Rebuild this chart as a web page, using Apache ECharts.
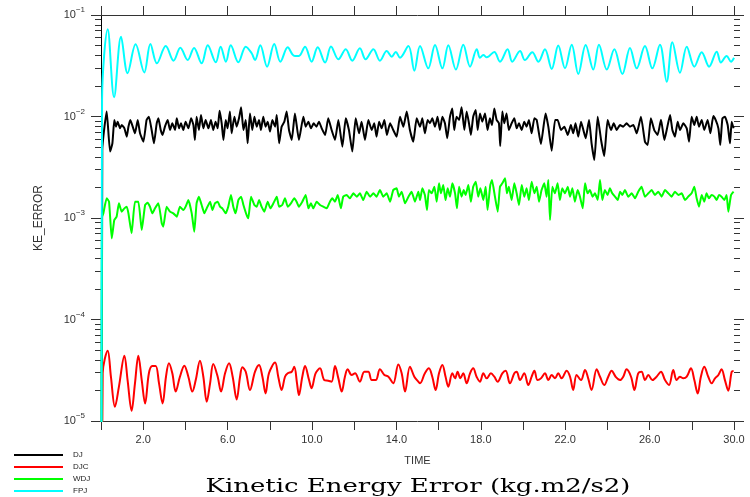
<!DOCTYPE html>
<html>
<head>
<meta charset="utf-8">
<script src="https://cdn.jsdelivr.net/npm/echarts@6/dist/echarts.min.js"></script>
<style>
  html, body { margin: 0; padding: 0; background: #fff; }
  #chart { width: 750px; height: 497px; }
</style>
</head>
<body>
<div id="chart"></div>
<script>
// Kinetic energy error histories, [time, error] pairs
const seriesNames = ['DJ', 'DJC', 'WDJ', 'FPJ'];

const djPoints = [
  [0.03,1e-7],[0.06,0.0047],[0.27,0.0112],[0.43,0.00451],[0.54,0.00544],[0.63,0.00924],[0.71,0.00794],[0.79,0.0089],
  [0.90,0.00764],[0.98,0.00824],[1.11,0.00764],[1.22,0.00633],[1.30,0.00794],[1.39,0.00924],[1.53,0.00764],[1.61,0.00683],
  [1.74,0.00924],[1.85,0.00683],[2.01,0.00565],[2.16,0.00924],[2.27,0.00996],[2.40,0.00736],[2.51,0.00544],[2.64,0.00857],
  [2.72,0.0096],[2.83,0.00736],[2.92,0.00658],[3.03,0.00794],[3.16,0.00924],[3.27,0.00736],[3.38,0.00857],[3.51,0.00736],
  [3.59,0.0096],[3.70,0.00764],[3.79,0.00857],[3.90,0.00736],[4.01,0.0089],[4.14,0.00764],[4.27,0.0096],[4.38,0.00824],
  [4.45,0.00587],[4.53,0.00996],[4.64,0.00736],[4.74,0.01035],[4.85,0.00764],[4.96,0.00924],[5.09,0.00764],[5.21,0.00924],
  [5.32,0.00736],[5.43,0.0089],[5.53,0.00764],[5.62,0.0114],[5.72,0.00857],[5.80,0.00587],[5.91,0.00924],[6.00,0.00764],
  [6.11,0.0112],[6.19,0.00683],[6.32,0.00996],[6.43,0.00794],[6.54,0.0096],[6.64,0.0123],[6.75,0.00736],[6.86,0.00924],
  [6.95,0.00544],[7.06,0.0107],[7.17,0.00736],[7.27,0.00996],[7.38,0.00794],[7.49,0.00924],[7.58,0.00736],[7.69,0.00996],
  [7.80,0.00794],[7.90,0.0089],[8.01,0.0071],[8.12,0.00924],[8.25,0.00794],[8.33,0.01035],[8.44,0.00544],[8.56,0.00794],
  [8.69,0.0089],[8.80,0.0112],[8.91,0.00736],[9.04,0.00587],[9.19,0.0107],[9.38,0.00587],[9.59,0.00996],[9.70,0.00794],
  [9.83,0.0089],[9.95,0.00764],[10.08,0.00857],[10.21,0.00794],[10.33,0.0089],[10.46,0.00764],[10.62,0.00658],[10.77,0.0096],
  [10.93,0.00736],[11.09,0.00587],[11.25,0.00924],[11.44,0.00504],[11.60,0.0096],[11.75,0.00736],[11.91,0.00451],[12.07,0.0096],
  [12.23,0.00683],[12.35,0.0089],[12.51,0.00587],[12.67,0.00924],[12.83,0.00736],[12.95,0.00857],[13.06,0.00633],[13.18,0.0089],
  [13.30,0.00764],[13.43,0.00924],[13.55,0.00658],[13.70,0.00857],[13.85,0.00736],[14.01,0.00633],[14.17,0.00996],[14.33,0.00794],
  [14.49,0.0112],[14.64,0.00736],[14.80,0.00565],[14.96,0.0096],[15.12,0.00794],[15.23,0.0096],[15.35,0.00683],[15.48,0.00924],
  [15.59,0.00857],[15.70,0.0096],[15.83,0.00794],[15.95,0.00996],[16.06,0.00736],[16.18,0.00996],[16.30,0.00857],[16.41,0.0061],
  [16.54,0.00996],[16.65,0.012],[16.74,0.00736],[16.85,0.00996],[16.97,0.00924],[17.09,0.0123],[17.22,0.00736],[17.33,0.0112],
  [17.44,0.00857],[17.53,0.00658],[17.64,0.00996],[17.76,0.0116],[17.85,0.00736],[17.96,0.0107],[18.07,0.0089],[18.20,0.0107],
  [18.32,0.00736],[18.43,0.0096],[18.53,0.00824],[18.64,0.012],[18.75,0.00924],[18.86,0.00857],[18.92,0.00511],[19.02,0.0112],
  [19.11,0.00857],[19.22,0.0107],[19.33,0.00736],[19.46,0.00857],[19.59,0.0096],[19.70,0.00764],[19.81,0.00857],[19.94,0.00736],
  [20.06,0.0089],[20.17,0.00794],[20.28,0.00924],[20.41,0.00683],[20.54,0.0096],[20.65,0.00924],[20.85,0.00536],[21.07,0.0107],
  [21.20,0.00794],[21.36,0.0046],[21.52,0.00924],[21.64,0.00924],[21.80,0.00736],[21.96,0.00794],[22.12,0.00658],[22.27,0.00824],
  [22.38,0.00683],[22.49,0.00857],[22.62,0.00633],[22.75,0.0089],[22.86,0.00736],[22.97,0.0061],[23.13,0.00924],[23.25,0.00544],
  [23.38,0.00373],[23.54,0.00996],[23.70,0.00587],[23.85,0.00408],[24.01,0.00924],[24.17,0.00736],[24.30,0.00857],[24.44,0.00736],
  [24.60,0.00824],[24.75,0.00794],[24.91,0.00857],[25.07,0.00794],[25.23,0.00824],[25.39,0.00683],[25.59,0.00996],[25.78,0.00565],
  [25.91,0.00524],[26.06,0.0096],[26.22,0.00736],[26.38,0.00658],[26.54,0.0093],[26.70,0.00587],[26.81,0.00736],[26.97,0.01035],
  [27.08,0.00736],[27.20,0.00633],[27.33,0.0089],[27.44,0.00736],[27.60,0.00857],[27.76,0.00764],[27.87,0.00565],[27.99,0.00996],
  [28.12,0.00824],[28.23,0.00996],[28.34,0.00794],[28.47,0.00924],[28.59,0.00736],[28.75,0.00924],[28.88,0.00683],[29.02,0.0101],
  [29.13,0.00924],[29.26,0.00764],[29.35,0.00524],[29.45,0.0096],[29.57,0.00996],[29.70,0.00824],[29.81,0.00544],[29.89,0.0089],
  [29.98,0.00764]
];

const djcPoints = [
  [0.03,1e-7],[0.08,2.95e-5],[0.32,4.93e-5],[0.47,2.73e-5],[0.66,1.38e-5],[0.85,2.18e-5],[1.11,4.40e-5],[1.26,2.53e-5],
  [1.45,1.26e-5],[1.61,2.35e-5],[1.77,4.40e-5],[1.93,2.53e-5],[2.09,1.49e-5],[2.27,2.95e-5],[2.43,3.48e-5],[2.59,3.48e-5],
  [2.75,2.35e-5],[2.92,1.49e-5],[3.08,2.73e-5],[3.22,3.70e-5],[3.38,2.95e-5],[3.54,1.95e-5],[3.74,2.73e-5],[3.95,3.51e-5],
  [4.14,2.73e-5],[4.33,1.95e-5],[4.49,2.53e-5],[4.69,3.93e-5],[4.85,2.73e-5],[5.01,1.55e-5],[5.17,2.35e-5],[5.32,3.64e-5],
  [5.53,2.73e-5],[5.69,1.95e-5],[5.88,2.95e-5],[6.07,3.70e-5],[6.24,2.73e-5],[6.43,1.63e-5],[6.59,2.73e-5],[6.70,3.38e-5],
  [6.86,3.06e-5],[7.06,2.02e-5],[7.30,3.06e-5],[7.49,3.56e-5],[7.65,2.73e-5],[7.80,1.87e-5],[7.96,2.95e-5],[8.25,3.76e-5],
  [8.40,2.73e-5],[8.56,2.02e-5],[8.72,2.73e-5],[8.85,2.95e-5],[9.04,3.06e-5],[9.16,3.43e-5],[9.29,2.35e-5],[9.38,1.80e-5],
  [9.54,2.73e-5],[9.67,3.48e-5],[9.86,2.53e-5],[9.98,2.10e-5],[10.17,2.95e-5],[10.38,3.30e-5],[10.58,2.53e-5],[10.77,2.49e-5],
  [10.93,2.44e-5],[11.09,3.48e-5],[11.25,2.63e-5],[11.41,1.95e-5],[11.56,2.73e-5],[11.69,3.23e-5],[11.88,2.84e-5],[12.04,2.95e-5],
  [12.27,2.44e-5],[12.48,3.06e-5],[12.67,3.06e-5],[12.83,2.53e-5],[13.02,2.53e-5],[13.22,3.23e-5],[13.43,2.84e-5],[13.62,2.73e-5],
  [13.85,2.35e-5],[14.09,3.61e-5],[14.25,2.95e-5],[14.41,1.95e-5],[14.64,3.43e-5],[14.85,2.73e-5],[15.04,2.44e-5],[15.12,2.35e-5],
  [15.35,2.95e-5],[15.54,3.30e-5],[15.70,2.73e-5],[15.86,2.02e-5],[16.02,2.95e-5],[16.18,3.56e-5],[16.33,2.73e-5],[16.46,2.18e-5],
  [16.65,2.95e-5],[16.78,2.63e-5],[16.90,3.06e-5],[17.03,2.63e-5],[17.17,2.95e-5],[17.33,2.35e-5],[17.49,2.95e-5],[17.64,3.30e-5],
  [17.80,2.73e-5],[17.96,2.44e-5],[18.12,2.95e-5],[18.28,2.63e-5],[18.48,2.95e-5],[18.64,2.73e-5],[18.80,2.44e-5],[19.02,2.95e-5],
  [19.18,3.13e-5],[19.38,2.35e-5],[19.59,2.95e-5],[19.70,3.06e-5],[19.86,2.53e-5],[20.06,2.95e-5],[20.25,2.26e-5],[20.41,2.73e-5],
  [20.54,3.13e-5],[20.69,2.53e-5],[20.85,2.63e-5],[21.04,2.95e-5],[21.20,2.53e-5],[21.36,2.84e-5],[21.52,2.63e-5],[21.67,2.95e-5],
  [21.83,2.63e-5],[22.07,3.13e-5],[22.23,2.73e-5],[22.38,2.02e-5],[22.54,2.84e-5],[22.75,2.53e-5],[22.94,3.18e-5],[23.09,2.63e-5],
  [23.25,2.02e-5],[23.49,3.23e-5],[23.65,2.73e-5],[23.85,2.26e-5],[24.04,2.73e-5],[24.20,3.13e-5],[24.39,2.73e-5],[24.60,2.53e-5],
  [24.75,2.73e-5],[24.91,3.23e-5],[25.12,2.73e-5],[25.28,2.02e-5],[25.46,2.95e-5],[25.62,3.06e-5],[25.78,2.53e-5],[25.94,2.84e-5],
  [26.13,2.53e-5],[26.33,2.73e-5],[26.54,3.06e-5],[26.73,2.53e-5],[26.92,2.26e-5],[27.12,3.18e-5],[27.28,2.53e-5],[27.44,2.73e-5],
  [27.60,2.63e-5],[27.76,2.73e-5],[27.96,3.30e-5],[28.12,2.53e-5],[28.28,1.87e-5],[28.43,2.73e-5],[28.59,3.43e-5],[28.78,2.73e-5],
  [28.94,2.35e-5],[29.10,2.63e-5],[29.26,2.84e-5],[29.41,3.23e-5],[29.57,2.53e-5],[29.73,1.99e-5],[29.89,3.06e-5],[29.98,3.11e-5]
];

const wdjPoints = [
  [0.02,1e-7],[0.04,0.00102],[0.11,0.00111],[0.27,0.001562],[0.38,0.001448],[0.51,0.00063],[0.63,0.000955],[0.74,0.001031],
  [0.85,0.001395],[0.98,0.001155],[1.11,0.001245],[1.22,0.001293],[1.30,0.001111],[1.45,0.000706],[1.61,0.001448],[1.77,0.001448],
  [1.93,0.000762],[2.09,0.001343],[2.21,0.001415],[2.32,0.001293],[2.43,0.001111],[2.56,0.001245],[2.72,0.001395],[2.88,0.000886],
  [2.95,0.000821],[3.11,0.001293],[3.27,0.001155],[3.43,0.001111],[3.59,0.001031],[3.74,0.001293],[3.90,0.001199],[4.01,0.001293],
  [4.14,0.001504],[4.30,0.001111],[4.42,0.000733],[4.53,0.001395],[4.64,0.001623],[4.77,0.001343],[4.90,0.001111],[5.01,0.001245],
  [5.17,0.001448],[5.28,0.001199],[5.40,0.001395],[5.53,0.001448],[5.64,0.001293],[5.75,0.001245],[5.91,0.001111],[6.03,0.001293],
  [6.16,0.001685],[6.27,0.001293],[6.38,0.001111],[6.51,0.001504],[6.64,0.001623],[6.75,0.001343],[6.90,0.00107],[6.98,0.000992],
  [7.11,0.001623],[7.27,0.001343],[7.38,0.001293],[7.49,0.001504],[7.61,0.001293],[7.74,0.001155],[7.90,0.001448],[8.03,0.001245],
  [8.17,0.001395],[8.33,0.001623],[8.44,0.001293],[8.59,0.001343],[8.72,0.001562],[8.85,0.001293],[9.00,0.001395],[9.16,0.001562],
  [9.27,0.001448],[9.38,0.001293],[9.54,0.001448],[9.70,0.001685],[9.83,0.001245],[9.95,0.001395],[10.06,0.001245],[10.22,0.001448],
  [10.38,0.001343],[10.54,0.001293],[10.70,0.001245],[10.85,0.001448],[10.96,0.001562],[11.09,0.001448],[11.22,0.001685],[11.37,0.001245],
  [11.48,0.001623],[11.64,0.001685],[11.80,0.001562],[11.96,0.00175],[12.12,0.001623],[12.27,0.00175],[12.43,0.001504],[12.59,0.001817],
  [12.75,0.001623],[12.91,0.00175],[13.06,0.001623],[13.22,0.001887],[13.38,0.001623],[13.54,0.00175],[13.70,0.001448],[13.85,0.001887],
  [14.01,0.00196],[14.12,0.001623],[14.25,0.001817],[14.41,0.001395],[14.57,0.001623],[14.72,0.001817],[14.88,0.001448],[15.04,0.001817],
  [15.12,0.001504],[15.23,0.00196],[15.35,0.001685],[15.45,0.001199],[15.54,0.001887],[15.67,0.00175],[15.80,0.002035],[15.91,0.001448],
  [16.02,0.002195],[16.11,0.00175],[16.22,0.002113],[16.33,0.001504],[16.43,0.00196],[16.54,0.001623],[16.65,0.002195],[16.78,0.00175],
  [16.87,0.001245],[16.97,0.002035],[17.09,0.001623],[17.19,0.001887],[17.28,0.001685],[17.41,0.002113],[17.53,0.001448],[17.64,0.002035],
  [17.76,0.00228],[17.88,0.001623],[17.98,0.00196],[18.12,0.001504],[18.23,0.002035],[18.32,0.001199],[18.45,0.002113],[18.53,0.002368],
  [18.67,0.001623],[18.80,0.001155],[18.91,0.002035],[19.02,0.002195],[19.15,0.002459],[19.24,0.00175],[19.33,0.002035],[19.46,0.001504],
  [19.59,0.002195],[19.70,0.00175],[19.81,0.001343],[19.94,0.002113],[20.06,0.001623],[20.17,0.00196],[20.28,0.001504],[20.41,0.00228],
  [20.54,0.00175],[20.65,0.002035],[20.76,0.001448],[20.88,0.001887],[21.01,0.002195],[21.12,0.001623],[21.20,0.002368],[21.28,0.000955],
  [21.39,0.002035],[21.51,0.00175],[21.64,0.002195],[21.75,0.001504],[21.86,0.00196],[21.99,0.00175],[22.12,0.002035],[22.23,0.001623],
  [22.34,0.00196],[22.46,0.001448],[22.59,0.001887],[22.70,0.001623],[22.83,0.001245],[22.94,0.002195],[23.06,0.00175],[23.17,0.001887],
  [23.30,0.001623],[23.41,0.00175],[23.54,0.001504],[23.65,0.002368],[23.76,0.001504],[23.88,0.001887],[24.01,0.001685],[24.12,0.00196],
  [24.23,0.00175],[24.36,0.001623],[24.49,0.001504],[24.60,0.001817],[24.71,0.001685],[24.83,0.001887],[24.99,0.001623],[25.15,0.00175],
  [25.31,0.001562],[25.46,0.001817],[25.62,0.002035],[25.78,0.001623],[25.94,0.00175],[26.10,0.001887],[26.25,0.001685],[26.41,0.001817],
  [26.57,0.001623],[26.73,0.001887],[26.89,0.00175],[27.04,0.001623],[27.20,0.001817],[27.36,0.001685],[27.52,0.00175],[27.68,0.001504],
  [27.83,0.001623],[27.99,0.00175],[28.12,0.002035],[28.23,0.001562],[28.34,0.001293],[28.47,0.001685],[28.59,0.001448],[28.70,0.00175],
  [28.81,0.001562],[28.94,0.001685],[29.07,0.001623],[29.18,0.001504],[29.29,0.001685],[29.41,0.001623],[29.54,0.001504],[29.65,0.001685],
  [29.73,0.001155],[29.86,0.001685],[29.98,0.001817]
];

const fpjPoints = [
  [0.02,1e-7],[0.05,0.0145],[0.32,0.0723],[0.62,0.0155],[0.95,0.061],[1.26,0.0267],[1.64,0.0514],[2.05,0.0272],
  [2.34,0.0518],[2.65,0.0334],[3.07,0.0495],[3.44,0.0355],[3.76,0.0476],[4.11,0.036],[4.41,0.0474],[4.77,0.0334],
  [5.06,0.0503],[5.44,0.0342],[5.67,0.0487],[5.92,0.0347],[6.15,0.0503],[6.51,0.0342],[6.86,0.0487],[7.14,0.042],
  [7.30,0.036],[7.55,0.0503],[7.87,0.031],[8.21,0.0518],[8.50,0.0347],[8.85,0.048],[9.07,0.041],[9.19,0.0395],
  [9.38,0.0395],[9.67,0.0487],[9.98,0.0347],[10.27,0.048],[10.62,0.034],[10.90,0.049],[11.25,0.0366],[11.60,0.046],
  [11.91,0.0355],[12.27,0.047],[12.54,0.0366],[12.91,0.046],[13.22,0.0355],[13.54,0.0441],[13.78,0.0388],[13.97,0.0432],
  [14.17,0.038],[14.57,0.0495],[14.85,0.0283],[15.12,0.0495],[15.51,0.0298],[15.83,0.0506],[16.18,0.0298],[16.46,0.0503],
  [16.82,0.029],[17.17,0.051],[17.49,0.031],[17.81,0.046],[17.96,0.038],[18.12,0.0404],[18.28,0.0383],[18.64,0.0432],
  [18.91,0.0347],[19.27,0.046],[19.49,0.0347],[19.86,0.0441],[20.09,0.036],[20.44,0.043],[20.73,0.0347],[21.04,0.046],
  [21.36,0.0294],[21.67,0.05],[21.99,0.0298],[22.31,0.051],[22.62,0.0262],[22.97,0.0506],[23.33,0.029],[23.60,0.051],
  [23.97,0.029],[24.33,0.046],[24.71,0.0262],[25.07,0.0474],[25.39,0.0298],[25.78,0.0495],[26.13,0.0298],[26.49,0.051],
  [26.81,0.022],[27.08,0.0539],[27.44,0.027],[27.76,0.0487],[28.12,0.031],[28.47,0.043],[28.82,0.031],[29.18,0.0435],
  [29.38,0.034],[29.65,0.0395],[29.86,0.0347],[30.0,0.0379]
];

const seriesColors = ['#000000', '#ff0000', '#00ff00', '#00ffff'];
const seriesSmooth = [0.15, 0.35, 0.15, 0.35];
const seriesData = [djPoints, djcPoints, wdjPoints, fpjPoints];

// Axis ranges and tick positions
const timeMin = 0, timeMax = 30, timeStep = 2;
const errorMin = 1e-5, errorMax = 1e-1;
const decadeExponents = [-5, -4, -3, -2, -1];
const minorExponents = [];
for (let d = -5; d < -1; d++) {
  for (let m = 2; m <= 9; m++) minorExponents.push(Math.log10(m) + d);
}

const titleText = 'Kinetic Energy Error (kg.m2/s2)';
const axisColor = '#333';
const sansFont = '"Liberation Sans", Arial, sans-serif';

const chart = echarts.init(document.getElementById('chart'), null, { renderer: 'canvas' });

function decadeLabel(v) {
  const e = Math.round(Math.log10(v));
  return '{b|10}{s|' + (e < 0 ? '\u2212' + (-e) : e) + '}';
}

// Stretch the serif caption to its printed width
const titleFont = '19px "DejaVu Serif", serif';
const measureCtx = document.createElement('canvas').getContext('2d');
measureCtx.font = titleFont;
const titleScaleX = 425 / measureCtx.measureText(titleText).width;

// Exponent-space axes that only carry the tick marks of the log scale
function tickAxis(position, values, len) {
  return {
    type: 'value', min: Math.log10(errorMin), max: Math.log10(errorMax), interval: 1,
    position: position, gridIndex: 0,
    axisLine: { show: false },
    axisTick: { show: true, length: len, customValues: values, lineStyle: { color: axisColor } },
    axisLabel: { show: false },
    splitLine: { show: false }
  };
}

chart.setOption({
  animation: false,
  backgroundColor: '#ffffff',
  grid: { left: 101, right: 16, top: 15, bottom: 76, containLabel: false, outerBoundsMode: 'none' },
  legend: {
    orient: 'vertical', left: 14, top: 450, padding: 0, itemGap: 2, itemWidth: 49, itemHeight: 2,
    icon: 'rect',
    data: seriesNames,
    textStyle: { fontSize: 8, lineHeight: 10, color: '#222', fontFamily: sansFont, padding: [0, 0, 0, 5] }
  },
  xAxis: [
    {
      type: 'value', min: timeMin, max: timeMax, interval: timeStep, position: 'bottom',
      name: 'TIME', nameLocation: 'middle', nameGap: 34,
      nameTextStyle: { fontSize: 11, color: axisColor, fontFamily: sansFont },
      axisLine: { lineStyle: { color: axisColor, width: 1 } },
      axisTick: { length: 9, lineStyle: { color: axisColor } },
      axisLabel: {
        margin: 13, fontSize: 11, color: axisColor, fontFamily: sansFont,
        formatter: v => ((v - 2) % 4 === 0 ? v.toFixed(1) : '')
      },
      splitLine: { show: false }
    },
    {
      type: 'value', min: timeMin, max: timeMax, interval: timeStep, position: 'top',
      axisLine: { lineStyle: { color: axisColor, width: 1 } },
      axisTick: { length: 9, lineStyle: { color: axisColor } },
      axisLabel: { show: false }, splitLine: { show: false }
    }
  ],
  yAxis: [
    {
      type: 'log', logBase: 10, min: errorMin, max: errorMax, position: 'left', gridIndex: 0,
      name: 'KE_ERROR', nameLocation: 'middle', nameGap: 56, nameRotate: 90,
      nameTextStyle: { fontSize: 12, color: axisColor, fontFamily: sansFont },
      axisLine: { show: true, lineStyle: { color: axisColor, width: 1 } },
      axisTick: { show: false },
      axisLabel: {
        margin: 16, formatter: decadeLabel,
        rich: {
          b: { fontSize: 11, color: axisColor, fontFamily: sansFont, lineHeight: 18 },
          s: { fontSize: 8, color: axisColor, fontFamily: sansFont, verticalAlign: 'top', lineHeight: 10 }
        }
      },
      splitLine: { show: false }, minorTick: { show: false }
    },
    {
      type: 'log', logBase: 10, min: errorMin, max: errorMax, position: 'right', gridIndex: 0,
      axisLine: { show: true, lineStyle: { color: '#000', width: 1 } },
      axisTick: { show: false }, axisLabel: { show: false },
      splitLine: { show: false }, minorTick: { show: false }
    },
    tickAxis('left', decadeExponents, 10),
    tickAxis('left', minorExponents, 6),
    tickAxis('right', decadeExponents, 10),
    tickAxis('right', minorExponents, 6)
  ],
  series: seriesNames.map((name, i) => ({
    name: name,
    type: 'line',
    xAxisIndex: 0,
    yAxisIndex: 0,
    data: seriesData[i],
    symbol: 'none',
    smooth: seriesSmooth[i],
    clip: true,
    lineStyle: { color: seriesColors[i], width: 2 },
    itemStyle: { color: seriesColors[i] }
  })),
  graphic: [{
    type: 'text',
    x: 418, y: 487,
    scaleX: titleScaleX,
    style: {
      text: titleText, font: titleFont, fill: '#000',
      align: 'center', verticalAlign: 'middle'
    }
  }]
});
</script>
</body>
</html>
